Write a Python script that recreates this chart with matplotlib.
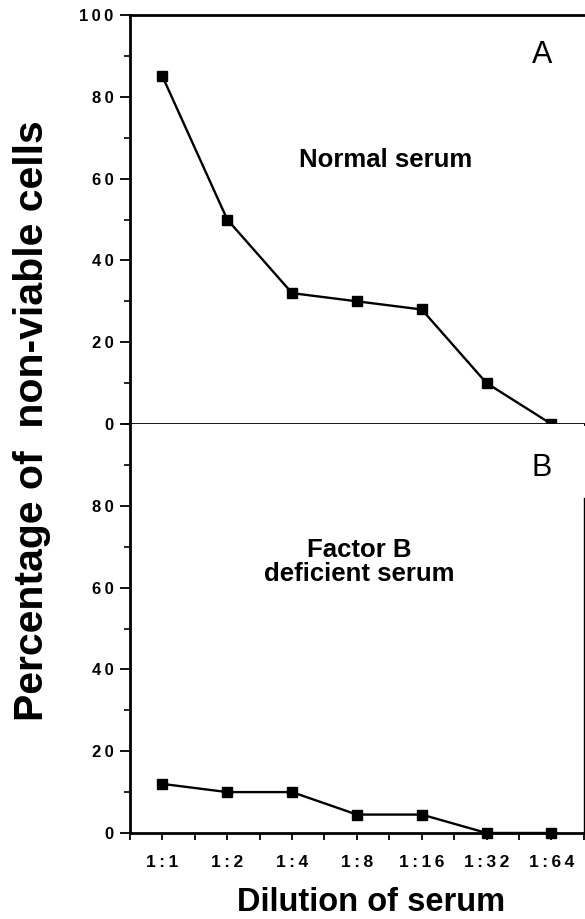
import matplotlib
matplotlib.use("Agg")
import matplotlib.pyplot as plt
from matplotlib.ticker import MultipleLocator

plt.rcParams['font.family'] = ['Liberation Sans', 'DejaVu Sans']

dilutions = ['1:1', '1:2', '1:4', '1:8', '1:16', '1:32', '1:64']
normal_serum = [85, 50, 32, 30, 28, 10, 0]
factor_b_deficient = [12, 10, 10, 4.5, 4.5, 0, 0]
top_ticks = [0, 20, 40, 60, 80, 100]
bottom_ticks = [0, 20, 40, 60, 80]

fig = plt.figure(figsize=(5.85, 9.19), dpi=100)
ax_a = fig.add_axes([0.2222, 0.5386, 0.7758, 0.4451])
ax_b = fig.add_axes([0.2222, 0.0936, 0.7758, 0.4450])

x = list(range(len(dilutions)))

def spaced(s):
    # the original lettering is set wide
    return '\u2009'.join(s)

def style_axis(ax, yticks):
    ax.set_xlim(-0.5, 6.5)
    ax.set_ylim(0, 100)
    ax.set_yticks(yticks)
    ax.set_yticklabels([spaced(str(t)) for t in yticks], fontsize=12, fontweight='bold')
    ax.yaxis.set_minor_locator(MultipleLocator(10))
    ax.tick_params(axis='y', which='major', direction='out', length=7, width=1.3, pad=5)
    ax.tick_params(axis='y', which='minor', direction='out', length=4, width=1.2)
    ax.spines['left'].set_linewidth(2)
    ax.spines['bottom'].set_linewidth(2)

# panel A
ax_a.plot(x, normal_serum, color='black', lw=1.7, marker='s', ms=7.5, clip_on=False, zorder=3)
style_axis(ax_a, top_ticks)
ax_a.set_xticks([])
ax_a.spines['right'].set_visible(False)
ax_a.spines['top'].set_linewidth(2)
ax_a.text(0.908, 0.902, 'A', transform=ax_a.transAxes, fontsize=22, ha='center', va='center')
ax_a.text(0.563, 0.645, 'Normal serum', transform=ax_a.transAxes, fontsize=18.5,
          fontweight='bold', ha='center', va='center')

# panel B
ax_b.plot(x, factor_b_deficient, color='black', lw=1.7, marker='s', ms=7.5, clip_on=False, zorder=3)
style_axis(ax_b, bottom_ticks)
ax_b.spines['top'].set_visible(False)
ax_b.spines['right'].set_linewidth(1)
ax_b.spines['right'].set_bounds(0, 82)
ax_b.set_xticks(x)
ax_b.set_xticklabels([spaced(d) for d in dilutions], fontsize=12.5, fontweight='bold')
ax_b.set_xticks([i - 0.5 for i in range(len(dilutions) + 1)], minor=True)
ax_b.tick_params(axis='x', which='both', direction='out', length=5, width=1.3, pad=11)

ax_b.text(0.908, 0.892, 'B', transform=ax_b.transAxes, fontsize=22, ha='center', va='center')
ax_b.text(0.505, 0.663, 'Factor B\ndeficient serum', transform=ax_b.transAxes, fontsize=18.5,
          fontweight='bold', ha='center', va='center', linespacing=1.0)

fig.text(0.634, 0.009, 'Dilution of serum', fontsize=23.5, fontweight='bold', ha='center', va='baseline')
fig.text(0.055, 0.542, 'Percentage of  non-viable cells', fontsize=29.5, fontweight='bold',
         rotation=90, ha='center', va='center')

fig.savefig('out.png', dpi=100)
